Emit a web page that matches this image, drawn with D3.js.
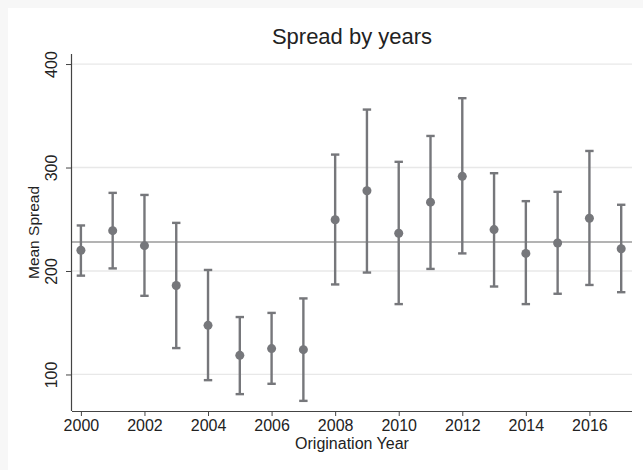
<!DOCTYPE html>
<html>
<head>
<meta charset="utf-8">
<script src="https://cdn.jsdelivr.net/npm/d3@7"></script>
<style>
html,body{margin:0;padding:0;background:#f7f7f7;}
svg{display:block;}
text{font-family:"Liberation Sans",Arial,sans-serif;fill:#222;}
</style>
</head>
<body>
<svg id="chart" width="643" height="470"></svg>
<script>
const years = [2000,2001,2002,2003,2004,2005,2006,2007,2008,2009,2010,2011,2012,2013,2014,2015,2016,2017];
const meanSpread = [220,239,224.5,186,147.5,118.5,125,124,249.5,277.5,236.5,266.5,291.5,240,217,227,251,221.5];
const upperCI = [244,275.5,273.5,246.5,201,155.5,159.5,173.5,312.5,356,305.5,330.5,367,294.5,267.5,276.5,316,264];
const lowerCI = [195.5,202.5,176,125.5,94.5,81,91,74.5,187,198.5,168,202,217,185,168,178,186.5,179.5];
const xTicks = [2000,2002,2004,2006,2008,2010,2012,2014,2016];
const yTicks = [100,200,300,400];
const overallMean = 228;

const svg = d3.select("#chart");
svg.append("rect").attr("x",8).attr("y",8).attr("width",643-8).attr("height",470-8).attr("fill","#fff");

const pLeft = 72, pRight = 632, pTop = 54, pBottom = 411;
const x = d3.scaleLinear().domain([1999.72, 2017.34]).range([pLeft, pRight]);
const y = d3.scaleLinear().domain([64.7, 409.7]).range([pBottom, pTop]);
const col = "#76777b";

// gridlines
svg.append("g").selectAll("line").data(yTicks).join("line")
  .attr("x1", pLeft).attr("x2", pRight)
  .attr("y1", d => y(d)).attr("y2", d => y(d))
  .attr("stroke", "#e8e8e8").attr("stroke-width", 1.3);

// reference line
svg.append("line").attr("x1", pLeft).attr("x2", pRight)
  .attr("y1", y(overallMean)).attr("y2", y(overallMean))
  .attr("stroke", "#9a9a9a").attr("stroke-width", 1.4);

// axes
const xAxis = d3.axisBottom(x).tickValues(xTicks).tickFormat(d3.format("d")).tickSize(5).tickPadding(4);
const gx = svg.append("g").attr("transform", `translate(0,${pBottom})`).call(xAxis);
gx.select(".domain").attr("d", `M${pLeft},0.5H${pRight}`).attr("stroke", "#444").attr("stroke-width", 1.2);
gx.selectAll(".tick line").attr("stroke", "#444");
gx.selectAll(".tick text").attr("font-size", 16).attr("fill", "#222").style("font-family", '"Liberation Sans",Arial,sans-serif');

const yAxis = d3.axisLeft(y).tickValues(yTicks).tickSize(6).tickPadding(0);
const gy = svg.append("g").attr("transform", `translate(${pLeft},0)`).call(yAxis);
gy.select(".domain").attr("d", `M-0.5,${pTop}V${pBottom}`).attr("stroke", "#444").attr("stroke-width", 1.2);
gy.selectAll(".tick line").attr("stroke", "#444");
gy.selectAll(".tick text")
  .attr("font-size", 16).attr("fill", "#222").style("font-family", '"Liberation Sans",Arial,sans-serif')
  .attr("x", null).attr("dy", null)
  .attr("transform", "translate(-15,0) rotate(-90)")
  .attr("text-anchor", "middle");

// error bars
const data = years.map((yr, i) => ({yr, m: meanSpread[i], hi: upperCI[i], lo: lowerCI[i]}));
const g = svg.append("g");
g.selectAll("line.v").data(data).join("line").attr("class", "v")
  .attr("x1", d => x(d.yr)).attr("x2", d => x(d.yr))
  .attr("y1", d => y(d.hi)).attr("y2", d => y(d.lo))
  .attr("stroke", col).attr("stroke-width", 2.4);
["hi", "lo"].forEach(k => {
  g.selectAll("line.c" + k).data(data).join("line").attr("class", "c" + k)
    .attr("x1", d => x(d.yr) - 4.2).attr("x2", d => x(d.yr) + 4.2)
    .attr("y1", d => y(d[k])).attr("y2", d => y(d[k]))
    .attr("stroke", col).attr("stroke-width", 2.4);
});
g.selectAll("circle").data(data).join("circle")
  .attr("cx", d => x(d.yr)).attr("cy", d => y(d.m)).attr("r", 4.5)
  .attr("fill", col);

// titles
svg.append("text").attr("x", (pLeft + pRight) / 2).attr("y", 44).attr("text-anchor", "middle")
  .attr("font-size", 22).text("Spread by years");
svg.append("text").attr("x", (pLeft + pRight) / 2).attr("y", 449).attr("text-anchor", "middle")
  .attr("font-size", 16).text("Origination Year");
svg.append("text").attr("transform", `translate(39,${(pTop + pBottom) / 2}) rotate(-90)`).attr("text-anchor", "middle")
  .attr("font-size", 15.5).text("Mean Spread");
</script>
</body>
</html>
